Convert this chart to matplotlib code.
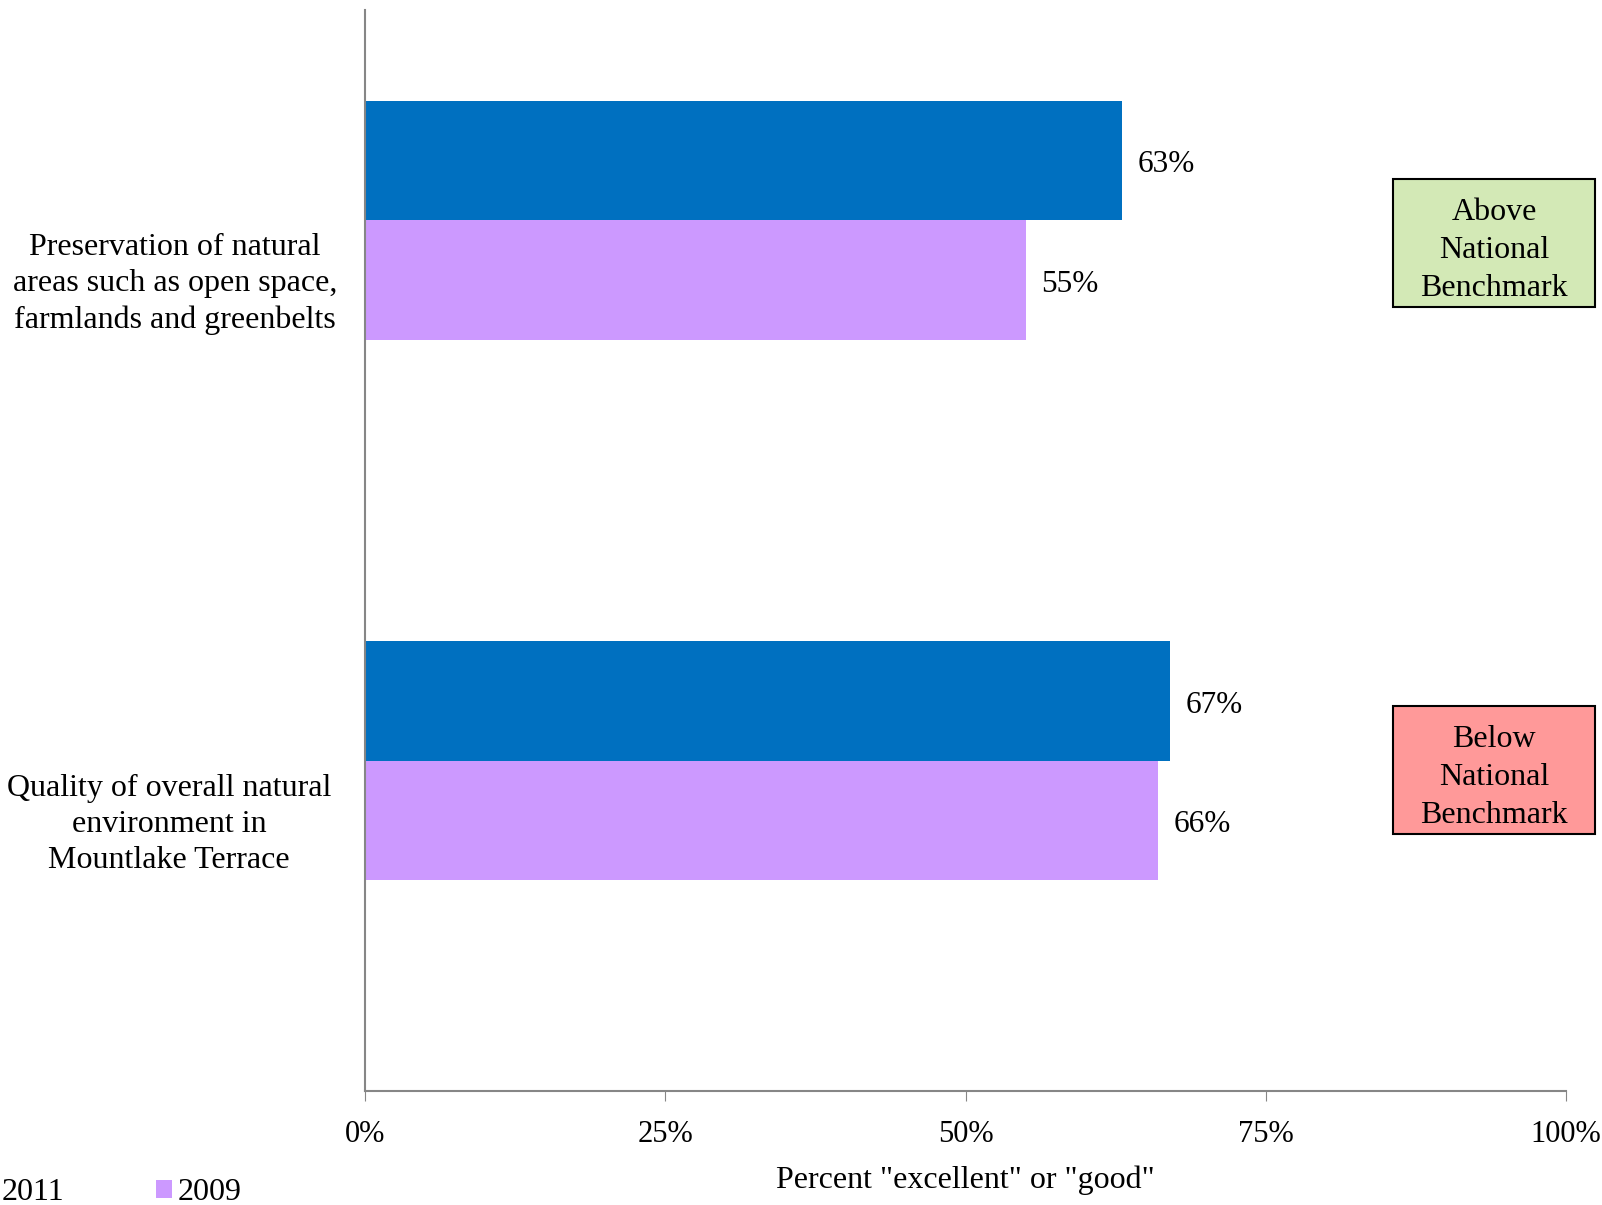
import matplotlib.pyplot as plt
import matplotlib.patches as mpatches
import matplotlib.transforms as mtransforms
import numpy as np

plt.rcParams['font.family'] = ['Liberation Serif', 'DejaVu Serif']

# data
categories = ['Preservation of natural\nareas such as open space,\nfarmlands and greenbelts',
              'Quality of overall natural\nenvironment in\nMountlake Terrace']
values_2011 = [63, 67]
values_2009 = [55, 66]
series_names = ['2011', '2009']
benchmarks = ['Above\nNational\nBenchmark', 'Below\nNational\nBenchmark']
bench_colors = ['#D3E9B6', '#FF9999']
xticks = [0, 25, 50, 75, 100]

blue = '#0070C0'
purple = '#CC99FF'

fig = plt.figure(figsize=(16.02, 12.05), dpi=100)
ax = fig.add_axes([0.228, 0.0946, 0.7495, 0.8974])

pos = np.arange(len(categories))
h = 0.2212
# third (hidden) series slot keeps the excel-like offset
b1 = ax.barh(pos + 0.5 - h, values_2011, height=h, color=blue, label=series_names[0])
b2 = ax.barh(pos + 0.5, values_2009, height=h, color=purple, label=series_names[1])

for bars in (b1, b2):
    for rect in bars:
        w = rect.get_width()
        ax.annotate('%d%%' % w, (w, rect.get_y() + rect.get_height() / 2),
                    xytext=(11.5, -3), textcoords='offset points',
                    ha='left', va='center', fontsize=22.5)

ax.set_xlim(0, 100)
ax.set_ylim(2, 0)
ax.set_xticks(xticks)
ax.set_xticklabels(['%d%%' % t for t in xticks], fontsize=22)
ax.tick_params(axis='x', length=7, color='#868686', pad=14)
ax.set_yticks(pos + 0.5)
ax.set_yticklabels(categories, fontsize=23, ha='center', multialignment='center',
                   linespacing=1.33)
ax.tick_params(axis='y', length=0, pad=137)
# nudge labels up a little, second one also sits further left
shift = mtransforms.ScaledTranslation(0, 2.5 / 72, fig.dpi_scale_trans)
for lab in ax.get_yticklabels():
    lab.set_transform(lab.get_transform() + shift)
ax.get_yticklabels()[1].set_x(-0.005)
ax.set_xlabel('Percent "excellent" or "good"', fontsize=23, labelpad=12)

for s in ['top', 'right']:
    ax.spines[s].set_visible(False)
for s in ['left', 'bottom']:
    ax.spines[s].set_color('#868686')
    ax.spines[s].set_linewidth(1.5)

# benchmark boxes
box_y = [179, 706]
for txt, col, y in zip(benchmarks, bench_colors, box_y):
    x0, w, hh = 1393, 202, 128
    fig.patches.append(mpatches.Rectangle((x0 / 1602, 1 - (y + hh) / 1205), w / 1602, hh / 1205,
                                          transform=fig.transFigure, facecolor=col,
                                          edgecolor='black', linewidth=1.5))
    fig.text((x0 + w / 2) / 1602, 1 - (y + hh / 2) / 1205 - 0.0062, txt, ha='center', va='center',
             fontsize=23, linespacing=1.42)

fig.legend(loc='lower left', bbox_to_anchor=(-0.0125, -0.002), ncol=2, frameon=False,
           fontsize=23, handlelength=0.5, handleheight=0.5, handletextpad=0.19,
           columnspacing=2.85, borderpad=0, borderaxespad=0)

fig.savefig('out.png', dpi=100)
